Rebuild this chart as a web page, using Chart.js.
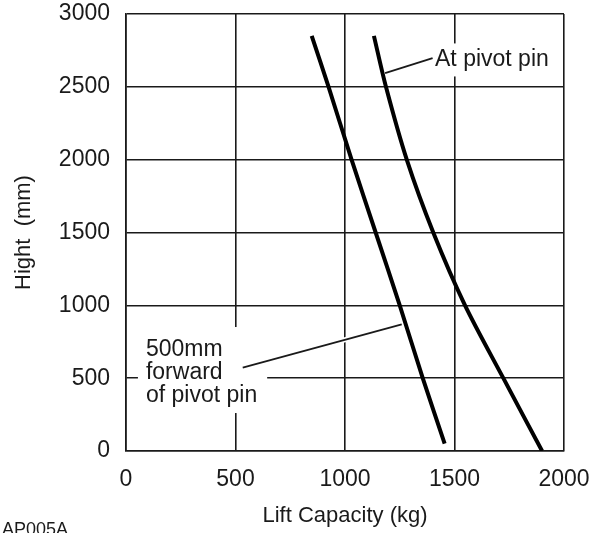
<!DOCTYPE html>
<html>
<head>
<meta charset="utf-8">
<title>Lift Capacity</title>
<script src="https://cdn.jsdelivr.net/npm/chart.js@4.4.1/dist/chart.umd.min.js"></script>
<style>
  html, body { margin: 0; padding: 0; background: #fff; }
  #wrap { position: relative; width: 590px; height: 533px; }
</style>
</head>
<body>
<div id="wrap"><canvas id="liftChart"></canvas></div>
<script>
// Data (kg vs mm)
const capacityForward = [848, 925, 1030, 1140, 1250, 1355, 1455];
const hightForward    = [2850, 2500, 2000, 1500, 1000, 500, 50];
const capacityPivot   = [1132, 1187, 1282, 1403, 1548, 1723, 1900];
const hightPivot      = [2850, 2500, 2000, 1500, 1000, 500, 0];
const xTickValues = [0, 500, 1000, 1500, 2000];
const yTickValues = [0, 500, 1000, 1500, 2000, 2500, 3000];

const ink = '#1a1a1a';
const fontFamily = '"Liberation Sans", Arial, Helvetica, sans-serif';

const toPoints = (xs, ys) => xs.map((v, i) => ({ x: v, y: ys[i] }));

// Callout texts, placed in data units
const notes = [
    { lines: ['At pivot pin'], x: 1411, y: 2640, from: [1183, 2594], to: [1400, 2697],
      pad: { l: 5, r: 4, t: 23, b: 10 } },
    { lines: ['500mm', 'forward', 'of pivot pin'], x: 91, y: 652, from: [533, 572], to: [1259, 870],
      pad: { l: 8, r: 10, t: 29, b: 11 } }
];
const lineGap = 23;

const noteLayer = {
    id: 'noteLayer',
    beforeDatasetsDraw(chart) {
        const { ctx, scales: { x, y } } = chart;
        ctx.save();
        ctx.font = '23px ' + fontFamily;
        ctx.textBaseline = 'alphabetic';
        notes.forEach(n => {
            const tx = x.getPixelForValue(n.x);
            const ty = y.getPixelForValue(n.y);
            const w = Math.max(...n.lines.map(l => ctx.measureText(l).width));
            const lastBase = ty + (n.lines.length - 1) * lineGap;
            // white box behind the text
            ctx.fillStyle = '#fff';
            ctx.fillRect(tx - n.pad.l, ty - n.pad.t, w + n.pad.l + n.pad.r, lastBase + n.pad.b - ty + n.pad.t);
            // leader line with a white halo
            const x1 = x.getPixelForValue(n.from[0]), y1 = y.getPixelForValue(n.from[1]);
            const x2 = x.getPixelForValue(n.to[0]), y2 = y.getPixelForValue(n.to[1]);
            ctx.beginPath();
            ctx.moveTo(x1, y1);
            ctx.lineTo(x2, y2);
            ctx.strokeStyle = '#fff';
            ctx.lineWidth = 5;
            ctx.stroke();
            ctx.strokeStyle = ink;
            ctx.lineWidth = 1.8;
            ctx.stroke();
            ctx.fillStyle = ink;
            n.lines.forEach((l, i) => ctx.fillText(l, tx, ty + i * lineGap));
        });
        ctx.restore();
    },
    afterDraw(chart) {
        const ctx = chart.ctx;
        ctx.save();
        ctx.font = '18px ' + fontFamily;
        ctx.fillStyle = ink;
        ctx.textBaseline = 'alphabetic';
        ctx.fillText('AP005A', 2, 535);
        ctx.restore();
    }
};

const gridStyle = { color: ink, lineWidth: 1.6, drawTicks: false };
const tickFont = { family: fontFamily, size: 23 };

new Chart(document.getElementById('liftChart'), {
    type: 'line',
    data: {
        datasets: [
            {
                label: '500mm forward of pivot pin',
                data: toPoints(capacityForward, hightForward),
                borderColor: '#000',
                borderWidth: 4,
                tension: 0.3,
                pointRadius: 0,
                fill: false
            },
            {
                label: 'At pivot pin',
                data: toPoints(capacityPivot, hightPivot),
                borderColor: '#000',
                borderWidth: 4,
                tension: 0.3,
                pointRadius: 0,
                fill: false
            }
        ]
    },
    options: {
        responsive: true,
        maintainAspectRatio: false,
        animation: false,
        layout: { padding: { left: 0, right: 26, top: 14, bottom: 0 } },
        plugins: {
            legend: { display: false },
            tooltip: { enabled: false }
        },
        scales: {
            x: {
                type: 'linear',
                min: 0,
                max: 2000,
                afterBuildTicks: s => { s.ticks = xTickValues.map(v => ({ value: v })); },
                afterFit: s => { s.height = 82; s.paddingLeft = 0; s.paddingRight = 0; },
                grid: gridStyle,
                border: { color: ink, width: 1.6 },
                ticks: { color: ink, font: tickFont, padding: 15, maxRotation: 0, callback: v => String(v) },
                title: {
                    display: true,
                    text: 'Lift Capacity (kg)',
                    color: ink,
                    font: { family: fontFamily, size: 22 },
                    padding: { top: 0, bottom: 4 }
                }
            },
            y: {
                type: 'linear',
                min: 0,
                max: 3000,
                afterBuildTicks: s => { s.ticks = yTickValues.map(v => ({ value: v })); },
                afterFit: s => { s.width = 126; s.paddingTop = 0; s.paddingBottom = 0; },
                grid: gridStyle,
                border: { color: ink, width: 1.6 },
                ticks: { color: ink, font: tickFont, padding: 16, callback: v => String(v) },
                title: {
                    display: true,
                    text: 'Hight  (mm)',
                    color: ink,
                    font: { family: fontFamily, size: 22 },
                    padding: { top: 11, bottom: 0 }
                }
            }
        }
    },
    plugins: [noteLayer]
});
</script>
</body>
</html>
